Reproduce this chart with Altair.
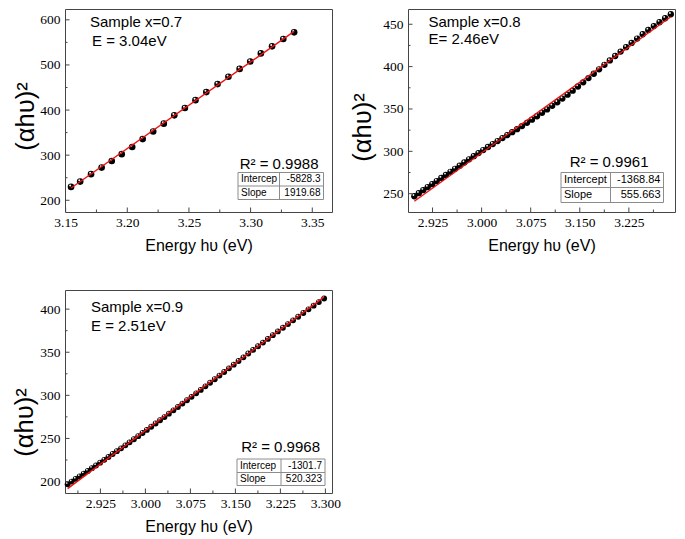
import altair as alt
import pandas as pd

# ---------------- data ----------------
# Sample x = 0.7
e07 = [3.1544, 3.1618, 3.1706, 3.1792, 3.1874, 3.1955, 3.2040, 3.2125, 3.2210, 3.2296, 3.2381,
       3.2467, 3.2553, 3.2641, 3.2732, 3.2820, 3.2911, 3.2997, 3.3083, 3.3174, 3.3265, 3.3353]
a07 = [229.6, 241.4, 257.9, 272.4, 287.1, 302.2, 318.0, 335.6, 352.4, 369.9, 388.3,
       404.5, 421.9, 439.8, 457.6, 473.8, 491.2, 507.5, 525.6, 541.2, 557.6, 572.2]
fit07 = {"intercept": -5828.3, "slope": 1919.68, "r2": "0.9988"}

# Sample x = 0.8
e08 = [2.8972, 2.9040, 2.9108, 2.9176, 2.9245, 2.9314, 2.9384, 2.9454, 2.9524, 2.9594, 2.9665,
       2.9736, 2.9808, 2.9880, 2.9952, 3.0024, 3.0097, 3.0170, 3.0244, 3.0318, 3.0392, 3.0467,
       3.0542, 3.0617, 3.0693, 3.0769, 3.0846, 3.0923, 3.1000, 3.1078, 3.1156, 3.1234, 3.1313,
       3.1392, 3.1472, 3.1552, 3.1633, 3.1714, 3.1795, 3.1877, 3.1959, 3.2041, 3.2124, 3.2208,
       3.2292, 3.2376, 3.2461, 3.2546, 3.2632, 3.2718, 3.2804, 3.2891]
a08 = [247.0, 250.6, 254.2, 257.8, 261.3, 264.9, 268.5, 272.2, 275.8, 279.4, 283.1,
       286.8, 290.6, 294.3, 297.9, 301.5, 305.1, 308.6, 312.1, 315.6, 319.1, 322.6,
       326.2, 329.8, 333.6, 337.4, 341.4, 345.5, 349.5, 353.7, 357.9, 362.3, 366.9,
       371.6, 376.5, 381.4, 386.5, 391.6, 396.8, 402.1, 407.3, 412.5, 417.7, 422.9,
       428.0, 433.1, 438.2, 443.3, 447.8, 452.5, 457.1, 461.8]
fit08 = {"intercept": -1368.84, "slope": 555.663, "r2": "0.9961"}

# Sample x = 0.9
e09 = [2.8704, 2.8770, 2.8837, 2.8904, 2.8972, 2.9040, 2.9108, 2.9176, 2.9245, 2.9314, 2.9384,
       2.9454, 2.9524, 2.9594, 2.9665, 2.9736, 2.9808, 2.9880, 2.9952, 3.0024, 3.0097, 3.0170,
       3.0244, 3.0318, 3.0392, 3.0467, 3.0542, 3.0617, 3.0693, 3.0769, 3.0846, 3.0923, 3.1000,
       3.1078, 3.1156, 3.1234, 3.1313, 3.1392, 3.1472, 3.1552, 3.1633, 3.1714, 3.1795, 3.1877,
       3.1959, 3.2041, 3.2124, 3.2208, 3.2292, 3.2376, 3.2461, 3.2546, 3.2632, 3.2718, 3.2804,
       3.2891, 3.2979]
a09 = [196.8, 199.9, 203.0, 206.0, 209.2, 212.3, 215.5, 218.6, 221.9, 225.2, 228.5,
       231.9, 235.2, 238.5, 242.0, 245.5, 249.1, 252.6, 256.3, 259.9, 263.6, 267.3,
       271.1, 274.8, 278.7, 282.6, 286.5, 290.4, 294.3, 298.3, 302.3, 306.3, 310.4,
       314.6, 318.7, 322.9, 327.1, 331.3, 335.6, 339.8, 344.1, 348.5, 352.7, 356.9,
       361.2, 365.5, 369.8, 374.2, 378.4, 382.7, 387.0, 391.2, 395.5, 399.8, 404.0,
       408.2, 412.3]
fit09 = {"intercept": -1301.7, "slope": 520.323, "r2": "0.9968"}

# texts
sample_labels = ["Sample x=0.7", "Sample x=0.8", "Sample x=0.9"]
gap_labels = ["E = 3.04eV", "E= 2.46eV", "E = 2.51eV"]
intercept_labels = ["Intercep", "Intercept", "Intercep"]
intercept_texts = ["-5828.3", "-1368.84", "-1301.7"]
slope_texts = ["1919.68", "555.663", "520.323"]
x_title = "Energy hυ (eV)"
y_title = "(αhυ)²"

# axis ticks
x07_major = [3.15, 3.20, 3.25, 3.30, 3.35]
x07_minor = [3.175, 3.225, 3.275, 3.325]
y07_major = [200, 300, 400, 500, 600]
y07_minor = [250, 350, 450, 550]
x08_major = [2.925, 3.000, 3.075, 3.150, 3.225]
x08_minor = [2.9625, 3.0375, 3.1125, 3.1875, 3.2625]
y08_major = [250, 300, 350, 400, 450]
y08_minor = [275, 325, 375, 425]
x09_major = [2.925, 3.000, 3.075, 3.150, 3.225, 3.300]
x09_minor = [2.8875, 2.9625, 3.0375, 3.1125, 3.1875, 3.2625]
y09_major = [200, 250, 300, 350, 400]
y09_minor = [225, 275, 325, 375]

# ---------------- styling ----------------
SANS = "Liberation Sans, Arial, sans-serif"
SERIF = "Liberation Serif"
FRAME = "#454545"
W, H = 267, 203


def text_layer(s, x, y, size, align):
    return alt.Chart(pd.DataFrame({"t": [s]})).mark_text(
        align=align, baseline="middle", font=SANS, fontSize=size, color="black"
    ).encode(x=alt.value(x), y=alt.value(y), text="t:N")


def panel(E, A, fit, i, xdom, xmaj, xmin, xfmt, ydom, ymaj, ymin, lay):
    pts = pd.DataFrame({"E": E, "A": A})
    ends = [min(E), max(E)]
    fit_df = pd.DataFrame({"E": ends, "A": [fit["intercept"] + fit["slope"] * e for e in ends]})

    xenc = alt.X("E:Q", scale=alt.Scale(domain=xdom, nice=False, zero=False),
                 axis=alt.Axis(values=xmaj, format=xfmt, title=x_title,
                               labelFont=SERIF, labelFontSize=13.5,
                               titleX=W / 2, titleY=33.5, titleBaseline="middle",
                               titleAlign="center"))
    yenc = alt.Y("A:Q", scale=alt.Scale(domain=ydom, nice=False, zero=False),
                 axis=alt.Axis(values=ymaj, format="d", title=y_title,
                               labelFont=SERIF, labelFontSize=13.5,
                               titleX=lay["tx"], titleY=lay["ty"], titleAngle=270,
                               titleBaseline="middle", titleAlign="center"))

    balls = alt.Chart(pts).mark_circle(size=lay["ball"], color="black", opacity=1).encode(x=xenc, y=yenc)
    shine = alt.Chart(pts).mark_circle(size=lay["shine"], color="#ffffff", opacity=0.95,
                                       xOffset=-0.9, yOffset=-1.3).encode(x=xenc, y=yenc)
    line = alt.Chart(fit_df).mark_line(color="#ee1111", strokeWidth=1.4).encode(x=xenc, y=yenc)

    xt1 = alt.Chart(pd.DataFrame({"E": xmaj})).mark_rule(color=FRAME).encode(
        x=xenc, y=alt.value(H), y2=alt.value(H - 4.5))
    xt2 = alt.Chart(pd.DataFrame({"E": xmin})).mark_rule(color=FRAME).encode(
        x=xenc, y=alt.value(H), y2=alt.value(H - 2.5))
    yt1 = alt.Chart(pd.DataFrame({"A": ymaj})).mark_rule(color=FRAME).encode(
        y=yenc, x=alt.value(0), x2=alt.value(4.5))
    yt2 = alt.Chart(pd.DataFrame({"A": ymin})).mark_rule(color=FRAME).encode(
        y=yenc, x=alt.value(0), x2=alt.value(2.5))

    t1 = text_layer(sample_labels[i], lay["sx"], lay["sy"], 15, "left")
    t2 = text_layer(gap_labels[i], lay["ex"], lay["ey"], 15, "left")
    t3 = text_layer("R² = " + fit["r2"], lay["rx"], lay["ry"], 15, "right")

    x1, x2, y1, y2, cx, ry = lay["tab"]
    one = pd.DataFrame({"k": [0]})
    box = alt.Chart(one).mark_rect(fill="white", stroke="#8c8c8c", strokeWidth=1).encode(
        x=alt.value(x1), x2=alt.value(x2), y=alt.value(y1), y2=alt.value(y2))
    vdiv = alt.Chart(one).mark_rule(color="#8c8c8c").encode(
        x=alt.value(cx), y=alt.value(y1), y2=alt.value(y2))
    hdiv = alt.Chart(one).mark_rule(color="#8c8c8c").encode(
        x=alt.value(x1), x2=alt.value(x2), y=alt.value(ry))
    fs = lay["tfs"]
    r1 = (y1 + ry) / 2
    r2 = (ry + y2) / 2
    c1 = text_layer(intercept_labels[i], x1 + 3, r1, fs, "left")
    c2 = text_layer("Slope", x1 + 3, r2, fs, "left")
    c3 = text_layer(intercept_texts[i], x2 - 3, r1, fs, "right")
    c4 = text_layer(slope_texts[i], x2 - 3, r2, fs, "right")

    return alt.layer(balls, shine, line, xt1, xt2, yt1, yt2, t1, t2, t3,
                     box, vdiv, hdiv, c1, c2, c3, c4).properties(width=W, height=H)


p1 = panel(e07, a07, fit07, 0, [3.1495, 3.366], x07_major, x07_minor, ".2f",
           [174, 624], y07_major, y07_minor,
           dict(tx=-40, ty=107, ball=44, shine=4, sx=25, sy=12.5, ex=27, ey=32,
                rx=W - 13.5, ry=H - 48.5,
                tab=(W - 94, W - 8.5, H - 39.5, H - 12.5, W - 52.5, H - 26), tfs=10))
p2 = panel(e08, a08, fit08, 1, [2.8875, 3.2955], x08_major, x08_minor, ".3f",
           [228.4, 468], y08_major, y08_minor,
           dict(tx=-46, ty=118, ball=40, shine=3.5, sx=20.5, sy=13, ex=20.5, ey=30,
                rx=W - 26.5, ry=H - 50,
                tab=(W - 114, W - 11.5, H - 39.5, H - 9.5, W - 64.5, H - 24.5), tfs=11))
p3 = panel(e09, a09, fit09, 2, [2.866, 3.311], x09_major, x09_minor, ".3f",
           [186.7, 422.2], y09_major, y09_minor,
           dict(tx=-41, ty=132, ball=34, shine=3, sx=26, sy=16.5, ex=26, ey=35.5,
                rx=W - 12, ry=H - 46.5,
                tab=(W - 95, W - 7, H - 34, H - 7.5, W - 51, H - 20.5), tfs=10))

chart = alt.concat(p1, p2, p3, columns=2).properties(
    bounds="flush", spacing={"row": 78, "column": 76},
    padding={"left": 3, "top": 0, "right": 0, "bottom": 0}
).configure_axis(
    grid=False, domain=False, ticks=False, tickSize=0, labelOverlap=False, labelFlush=False,
    labelFont=SERIF, labelFontSize=13.5, labelColor="black",
    titleFont=SANS, titleColor="black", titleFontWeight="normal"
).configure_axisX(
    labelPadding=3.5, titleFontSize=16
).configure_axisY(
    labelPadding=5, titleFontSize=25.5
).configure_view(
    stroke=FRAME, strokeWidth=1
)

chart.save("out.html", embed_options={"renderer": "svg", "actions": False})
